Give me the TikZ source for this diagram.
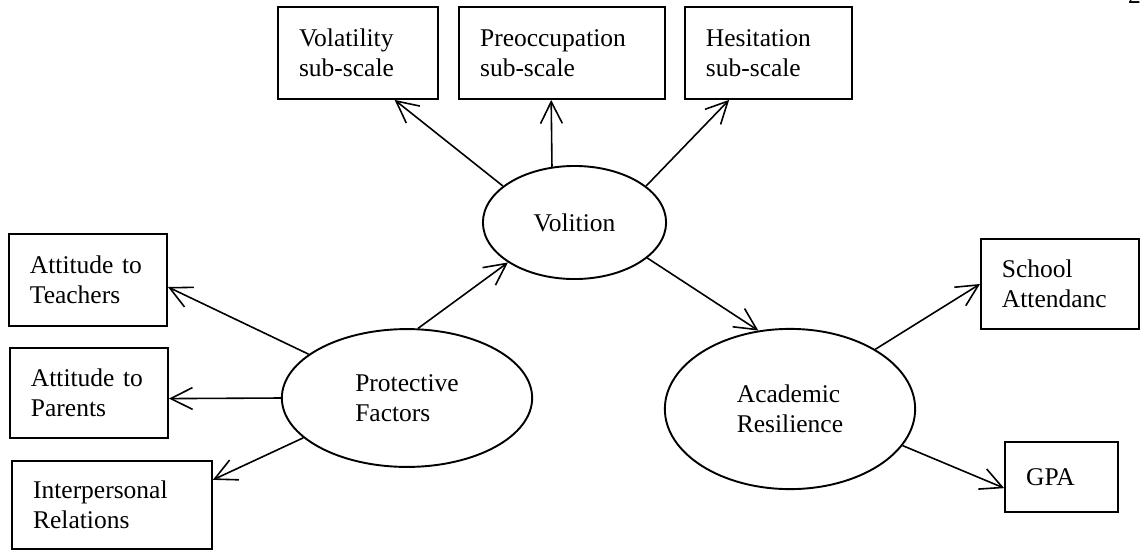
\documentclass[tikz,border=0pt]{standalone}
\usepackage{fontspec}
\setmainfont{Liberation Serif}
\usetikzlibrary{arrows.meta, shapes.geometric}

\tikzset{
  box/.style={draw, line width=0.9pt, rectangle, align=left,
              inner xsep=0.347cm, inner ysep=0pt,
              font=\fontsize{12}{14}\selectfont},
  latent/.style={draw, line width=0.9pt, ellipse, align=left, inner sep=0pt,
              font=\fontsize{12}{14}\selectfont},
  link/.style={-{Straight Barb[length=3.6mm, width=3.6mm]}, line width=0.75pt}
}

\begin{document}
\begin{tikzpicture}[x=0.01654cm, y=-0.01654cm]
  \useasboundingbox (0,0) rectangle (1141,550);

  % page number, cut off at the top
  \node[font=\fontsize{12}{14}\selectfont, anchor=base] (pagenum) at (1134.5,3) {2};

  % Latent variables
  \node[latent, minimum width=3.03cm, minimum height=1.87cm] (vol) at (574.5,222.5) {Volition};
  \node[latent, minimum width=4.14cm, minimum height=2.28cm] (prot) at (407,398) {Protective\\Factors};
  \node[latent, minimum width=4.14cm, minimum height=2.65cm] (acad) at (790,409) {Academic\\Resilience};

  % Sub-scales of volition
  \node[box, text width=1.95cm, minimum height=1.52cm] (volat) at (358,53) {Volatility\\sub-scale};
  \node[box, text width=2.71cm, minimum height=1.52cm] (preocc) at (562,53) {Preoccupation\\sub-scale};
  \node[box, text width=2.07cm, minimum height=1.52cm] (hesit) at (768.5,53) {Hesitation\\sub-scale};

  % Protective factors
  \node[box, text width=1.92cm, minimum height=1.52cm] (teach) at (88,280) {Attitude to\\Teachers};
  \node[box, text width=1.92cm, minimum height=1.49cm] (parent) at (89,393) {Attitude to\\Parents};
  \node[box, text width=2.61cm, minimum height=1.46cm] (inter) at (112,505) {Interpersonal\\Relations};

  % Outcomes
  \node[box, text width=1.92cm, minimum height=1.49cm] (school) at (1060,284) {School\\Attendanc};
  \node[box, text width=1.17cm, minimum height=1.16cm] (gpa) at (1061.5,477) {GPA};

  % Paths
  \draw[link] (vol.153.8) -- (volat.-52.1);
  \draw[link] (vol.112.6) -- (preocc.-103.7);
  \draw[link] (vol.27.1) -- (hesit.-130.5);
  \draw[link] (prot.81.8) -- (vol.211.3);
  \draw[link] (vol.-26.4) -- (acad.112.9);
  \draw[link] (prot.156.6) -- (teach.-5.1);
  \draw[link] (prot.180) -- (parent.-4.3);
  \draw[link] (prot.201.4) -- (inter.14);
  \draw[link] (acad.35.9) -- (school.180);
  \draw[link] (acad.-18.4) -- (gpa.191);

\end{tikzpicture}
\end{document}
